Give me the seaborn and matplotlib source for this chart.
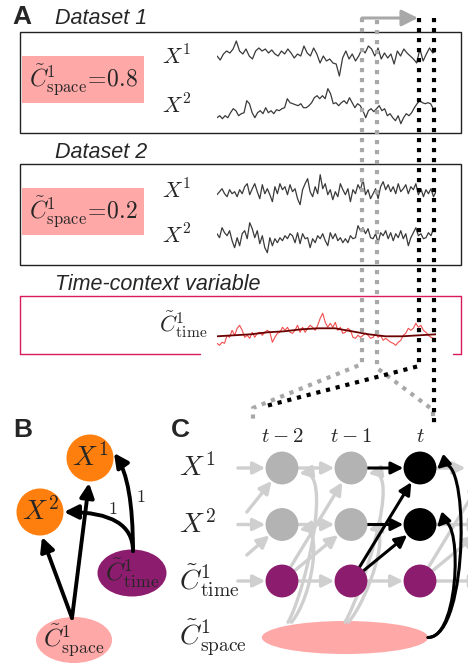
import numpy as np
import pandas as pd
import matplotlib
matplotlib.use("Agg")
import matplotlib.pyplot as plt
from matplotlib.patches import Rectangle, Ellipse, Circle, FancyArrowPatch
from matplotlib.path import Path
import seaborn as sns

# time series (height in px, up is positive)
d1_x1 = [0, -4, 2, 5, 3, 7, 15, 5, 2, 7, 0, -3, 5, 8, 5, 7, 3, 6, 2, 0, 5, 2, 7, 3, -2, 2, 0, 10, 3, 0,
         8, 2, -7, 0, -5, -3, -7, -8, -20, -2, 5, -3, 2, -5, 0, 7, 3, 10, 7, 0, 8, -3, 3, -2, 2, -8, 5, 0,
         7, 3, 0, -3, -7, 7, -5, 2, 8, 3, 5]
d1_x2 = [-7, -5, -8, -5, -7, -2, 2, 0, -5, -3, -2, 10, 7, -2, -7, -2, 0, -3, 3, -2, 0, -3, 1, 0, 2, 3,
         12, 8, 7, 6, 5, 7, 3, 3, 5, 8, 13, 15, 12, 15, 12, 22, 17, 7, 8, 5, 8, 10, 7, 13, 8, 3, 7, 5, 0,
         -7, 0, 2, -1, 2, 5, 0, 2, -5, -3, -7, -10, -5, -13, -7, -3, -5, -2, 3, 7, 10, 8, 7, 8, 7, 2, 3]
d2_x1 = [-3, 0, 3, -2, -5, 2, -2, 0, -5, 2, -2, 5, 8, -3, 3, 8, 0, -7, 7, -2, 3, -3, -10, 5, -2, 8, 2,
         5, -3, 7, 0, 3, -7, -13, 2, 8, 13, 0, -5, 5, -2, 17, 3, 8, -3, 2, -8, 0, -5, 8, 2, -3, 3, -10,
         2, -2, 7, 2, 12, -3, 2, -7, -2, 3, -7, 5, 10, 2, 7, 0, 5, -2, 8, 0, 3, 7, -2, 5, 2, 8, -3, 3,
         -5, 2, -2, 3, -5, 0]
d2_x2 = [2, -2, 8, 3, 0, 5, -5, -12, -2, -10, 2, 5, -3, 13, 7, -2, 5, -8, 0, -12, -17, -2, -10, -3, -7,
         -2, -5, 0, -3, 2, 0, -7, 3, -8, 2, -3, -2, -12, -3, -7, 0, -3, 2, -5, -10, 3, -3, 2, -5, -2, -7,
         -3, -7, 0, -3, -2, 10, 5, 8, 2, 7, -2, -3, 2, -7, 3, 0, 5, -3, 3, -5, 2, -2, 5, -3, 2, -10, -2,
         3, 8, 0, 2, -3, -2, 3, 0, 7, 5]
ctx_raw = [-8, -10, -7, -8, 0, -2, 5, 0, 7, 10, 5, -2, 0, -3, 3, -2, 2, 3, 0, 3, 5, 3, -7, -2, 2, 3, 8,
           5, 8, 3, 2, 5, 10, 3, 8, 3, 7, 10, 8, 5, 10, 17, 22, 13, 8, 12, 8, 13, 5, 8, 2, 3, 7, 5, -2,
           -3, 0, -2, 0, 2, 0, -3, -2, 2, -2, 0, -5, -3, -5, -7, -8, -10, -7, -5, 0, 2, 7, 5, 7, 12, 8,
           10, 5, 3, 0, -2, -3, -3]
ctx_smooth = [-1, 0, 1, 3, 4, 6, 7, 7, 4, 1, -1, -1, 0, 1]

space_vals = ["0.8", "0.2"]
dataset_titles = ["Dataset 1", "Dataset 2"]

# panel C
c_cols = ["$t-2$", "$t-1$", "$t$"]
c_rows = ["$X^1$", "$X^2$", r"$\tilde{C}^1_{\mathrm{time}}$", r"$\tilde{C}^1_{\mathrm{space}}$"]
c_kind = [["past", "past", "now"],
          ["past", "past", "now"],
          ["ctx", "ctx", "ctx"]]

W, H = 468, 666
ORANGE = "#ff7f0e"
PURPLE = "#8c1c6e"
PINK = "#ffa8a8"
NODE_GRAY = "#b3b3b3"
LIGHT = "#cfcfcf"
CRIMSON = "#d81b5a"
HEAD = "-|>,head_length=0.6,head_width=0.3"

sns.set_theme(style="white")
plt.rcParams["font.family"] = ["Liberation Sans", "DejaVu Sans"]
plt.rcParams["mathtext.fontset"] = "cm"

fig = plt.figure(figsize=(W / 100, H / 100), dpi=100)
ax = fig.add_axes([0, 0, 1, 1])
ax.set_xlim(0, W)
ax.set_ylim(H, 0)
ax.axis("off")
ax.set_zorder(3)


def px_axes(x0, y0, x1, y1, z=1):
    a = fig.add_axes([x0 / W, 1 - y1 / H, (x1 - x0) / W, (y1 - y0) / H])
    a.axis("off")
    a.set_zorder(z)
    return a


def series(vals, yc, color, lw=1.0, xs=None, n=None, alpha=1.0):
    a = px_axes(217, yc - 25, 436, yc + 25)
    if xs is None:
        xs = np.arange(len(vals))
        n = len(vals)
    sns.lineplot(x=xs, y=vals, ax=a, color=color, lw=lw, alpha=alpha)
    a.set_xlim(0, n - 1)
    a.set_ylim(-25, 25)
    a.axis("off")
    return a


def arrow(a, src, dst, color, lw=2.4, rad=0.0, sA=12, sB=12, ms=12, z=2, cs=None):
    style = cs if cs else f"arc3,rad={rad}"
    a.annotate("", xy=dst, xytext=src, zorder=z, annotation_clip=False,
               arrowprops=dict(arrowstyle=HEAD, color=color, lw=lw, shrinkA=sA, shrinkB=sB,
                               mutation_scale=ms, connectionstyle=style))


def curve(a, pts, color, lw=2.4, z=2):
    # cubic bezier: start, ctrl1, ctrl2, end
    p = Path(pts, [Path.MOVETO, Path.CURVE4, Path.CURVE4, Path.CURVE4])
    a.add_patch(FancyArrowPatch(path=p, arrowstyle=HEAD, color=color, lw=lw,
                                mutation_scale=12, zorder=z))


# ---------- panel A ----------
ax.text(12, 17, "A", fontsize=19, fontweight="bold", va="center", ha="left")
box_tops = [32, 164]
title_y = [19, 152]
lane_y = [(56, 110.7), (191.7, 235.7)]
label_y = [(57, 106), (191, 236)]
data_sets = [(d1_x1, d1_x2), (d2_x1, d2_x2)]
for i in range(2):
    top = box_tops[i]
    ax.text(55, title_y[i], dataset_titles[i], fontsize=15.5, style="italic", va="center", ha="left")
    ax.add_patch(Rectangle((20, top), 441, 101, fill=False, ec="#222222", lw=1.0))
    ax.add_patch(Rectangle((22, top + 24), 122, 47, fc=PINK, ec="none"))
    ax.text(83, top + 48, r"$\tilde{C}^1_{\mathrm{space}}\!=\!" + space_vals[i] + "$",
            fontsize=17, ha="center", va="center")
    ax.text(162, label_y[i][0], "$X^1$", fontsize=16, ha="left", va="center")
    ax.text(162, label_y[i][1], "$X^2$", fontsize=16, ha="left", va="center")
    series(data_sets[i][0], lane_y[i][0], "#3a3a3a", lw=0.9)
    series(data_sets[i][1], lane_y[i][1], "#3a3a3a", lw=0.9)

ax.text(55, 284, "Time-context variable", fontsize=15.5, style="italic", va="center", ha="left")
for xs_, ys_ in [([20, 461], [296, 296]), ([20, 20], [296, 354]), ([461, 461], [296, 354]),
                 ([20, 200], [354, 354]), ([453, 461], [354, 354])]:
    ax.plot(xs_, ys_, color=CRIMSON, lw=1.0)
ax.text(159, 325, r"$\tilde{C}^1_{\mathrm{time}}$", fontsize=16, ha="left", va="center")
series(ctx_raw, 335.3, "#ee2222", lw=0.8, alpha=0.8)
series(ctx_smooth, 335.3, "#6a0000", lw=1.3,
       xs=np.linspace(0, len(ctx_raw) - 1, len(ctx_smooth)), n=len(ctx_raw))

# window markers
dots = (0, (1, 1.4))
GRAY_D = "#a8a8a8"
ax.plot([362, 362, 253, 253], [18, 364, 408, 423], color=GRAY_D, lw=3, ls=dots)
ax.plot([377, 377, 433, 433], [20, 368, 410, 420], color=GRAY_D, lw=3, ls=dots)
ax.plot([419, 419, 266], [18, 366, 406], color="black", lw=3, ls=dots)
ax.plot([434, 434], [18, 425], color="black", lw=3, ls=dots)
ax.annotate("", xy=(418, 18), xytext=(362, 18),
            arrowprops=dict(arrowstyle="-|>,head_length=0.7,head_width=0.35", color=GRAY_D,
                            lw=2.2, shrinkA=0, shrinkB=0, mutation_scale=14))

# ---------- panel B ----------
ax.text(13, 430, "B", fontsize=19, fontweight="bold", va="center", ha="left")
ax.add_patch(Circle((90, 458), 23.5, fc=ORANGE, ec="none"))
ax.add_patch(Circle((40, 512), 23.5, fc=ORANGE, ec="none"))
ax.add_patch(Ellipse((132, 573), 69, 47, fc=PURPLE, ec="none"))
ax.add_patch(Ellipse((74, 640), 76, 46, fc=PINK, ec="none"))
ax.text(90, 458, "$X^1$", fontsize=20, ha="center", va="center")
ax.text(40, 512, "$X^2$", fontsize=20, ha="center", va="center")
ax.text(132, 573, r"$\tilde{C}^1_{\mathrm{time}}$", fontsize=18, ha="center", va="center")
ax.text(74, 640, r"$\tilde{C}^1_{\mathrm{space}}$", fontsize=18, ha="center", va="center")
arrow(ax, (72, 618), (42, 537), "black", lw=2.8, sA=0, sB=0, ms=14, z=4)
arrow(ax, (72, 618), (89, 483), "black", lw=2.8, sA=0, sB=0, ms=14, z=4)
arrow(ax, (133, 551), (64, 512), "black", lw=2.8, sA=0, sB=0, ms=14, z=4,
      cs="angle3,angleA=90,angleB=0")
arrow(ax, (133, 551), (114, 453), "black", lw=2.8, sA=0, sB=0, ms=14, z=4,
      cs="angle3,angleA=90,angleB=-55")
ax.text(113, 509, "$1$", fontsize=13, ha="center", va="center")
ax.text(141, 497, "$1$", fontsize=13, ha="center", va="center")

# ---------- panel C ----------
ax.text(171, 430, "C", fontsize=19, fontweight="bold", va="center", ha="left")
c0, dc, r0, dr = 282, 69, 468, 56.5
axc = px_axes(160, 400, W, H, z=2)
axc.axis("on")
nodes = pd.DataFrame([(c, r, c_kind[r][c]) for r in range(3) for c in range(3)],
                     columns=["col", "row", "kind"])
sns.scatterplot(data=nodes, x="col", y="row", hue="kind", ax=axc, s=560, linewidth=0,
                palette={"past": NODE_GRAY, "now": "black", "ctx": PURPLE}, legend=False, zorder=3)
axc.add_patch(Ellipse((0.913, 3.0), 2.41, 0.584, fc=PINK, ec="none", zorder=1))
axc.set_xlim((160 - c0) / dc, (W - c0) / dc)
axc.set_ylim((H - r0) / dr, (400 - r0) / dr)
axc.axis("off")
for r, lab in enumerate(c_rows):
    axc.text(-1.49, r, lab, fontsize=20, ha="left", va="center")
for c, lab in enumerate(c_cols):
    axc.text(c, -0.55, lab, fontsize=15, ha="center", va="center")

# gray (past) links
for r in range(3):
    arrow(axc, (-0.64, r), (0, r), LIGHT, sA=0, z=1)
    arrow(axc, (0, r), (1, r), LIGHT, z=1)
    arrow(axc, (2, r), (2.66 if r == 0 else 2.9, r), LIGHT, sB=0, z=1)
arrow(axc, (-0.51, 0.78), (0, 0), LIGHT, sA=0, z=1)
arrow(axc, (-0.51, 1.54), (0, 1), LIGHT, sA=0, z=1)
arrow(axc, (0, 2), (1, 0), LIGHT, z=1)
arrow(axc, (0, 2), (1, 1), LIGHT, z=1)
arrow(axc, (1, 2), (2, 2), LIGHT, z=1)
arrow(axc, (2, 2), (3, 0), LIGHT, z=1)
arrow(axc, (2, 2), (3, 1), LIGHT, z=1)
for c, sx in [(0, 0.087), (1, 0.913)]:
    curve(axc, [(sx, 2.73), (sx + 0.25, 2.2), (c + 0.75, 0.0), (c + 0.25, 0.1)], LIGHT, z=1)
    curve(axc, [(sx + 0.05, 2.73), (sx + 0.35, 2.3), (c + 0.6, 1.0), (c + 0.25, 1.1)], LIGHT, z=1)

# black (current) links
arrow(axc, (1, 0), (2, 0), "black", lw=2.2, z=2.5)
arrow(axc, (1, 1), (2, 1), "black", lw=2.2, z=2.5)
arrow(axc, (1, 2), (2, 0), "black", lw=2.2, z=2.5)
arrow(axc, (1, 2), (2, 1), "black", lw=2.2, z=2.5)
curve(axc, [(2.116, 3.0), (2.725, 3.0), (2.725, -0.5), (2.246, 0.02)], "black", lw=2.2, z=2.5)
curve(axc, [(2.116, 3.0), (2.61, 3.0), (2.61, 0.57), (2.246, 1.05)], "black", lw=2.2, z=2.5)

fig.savefig("out.png", dpi=100)
